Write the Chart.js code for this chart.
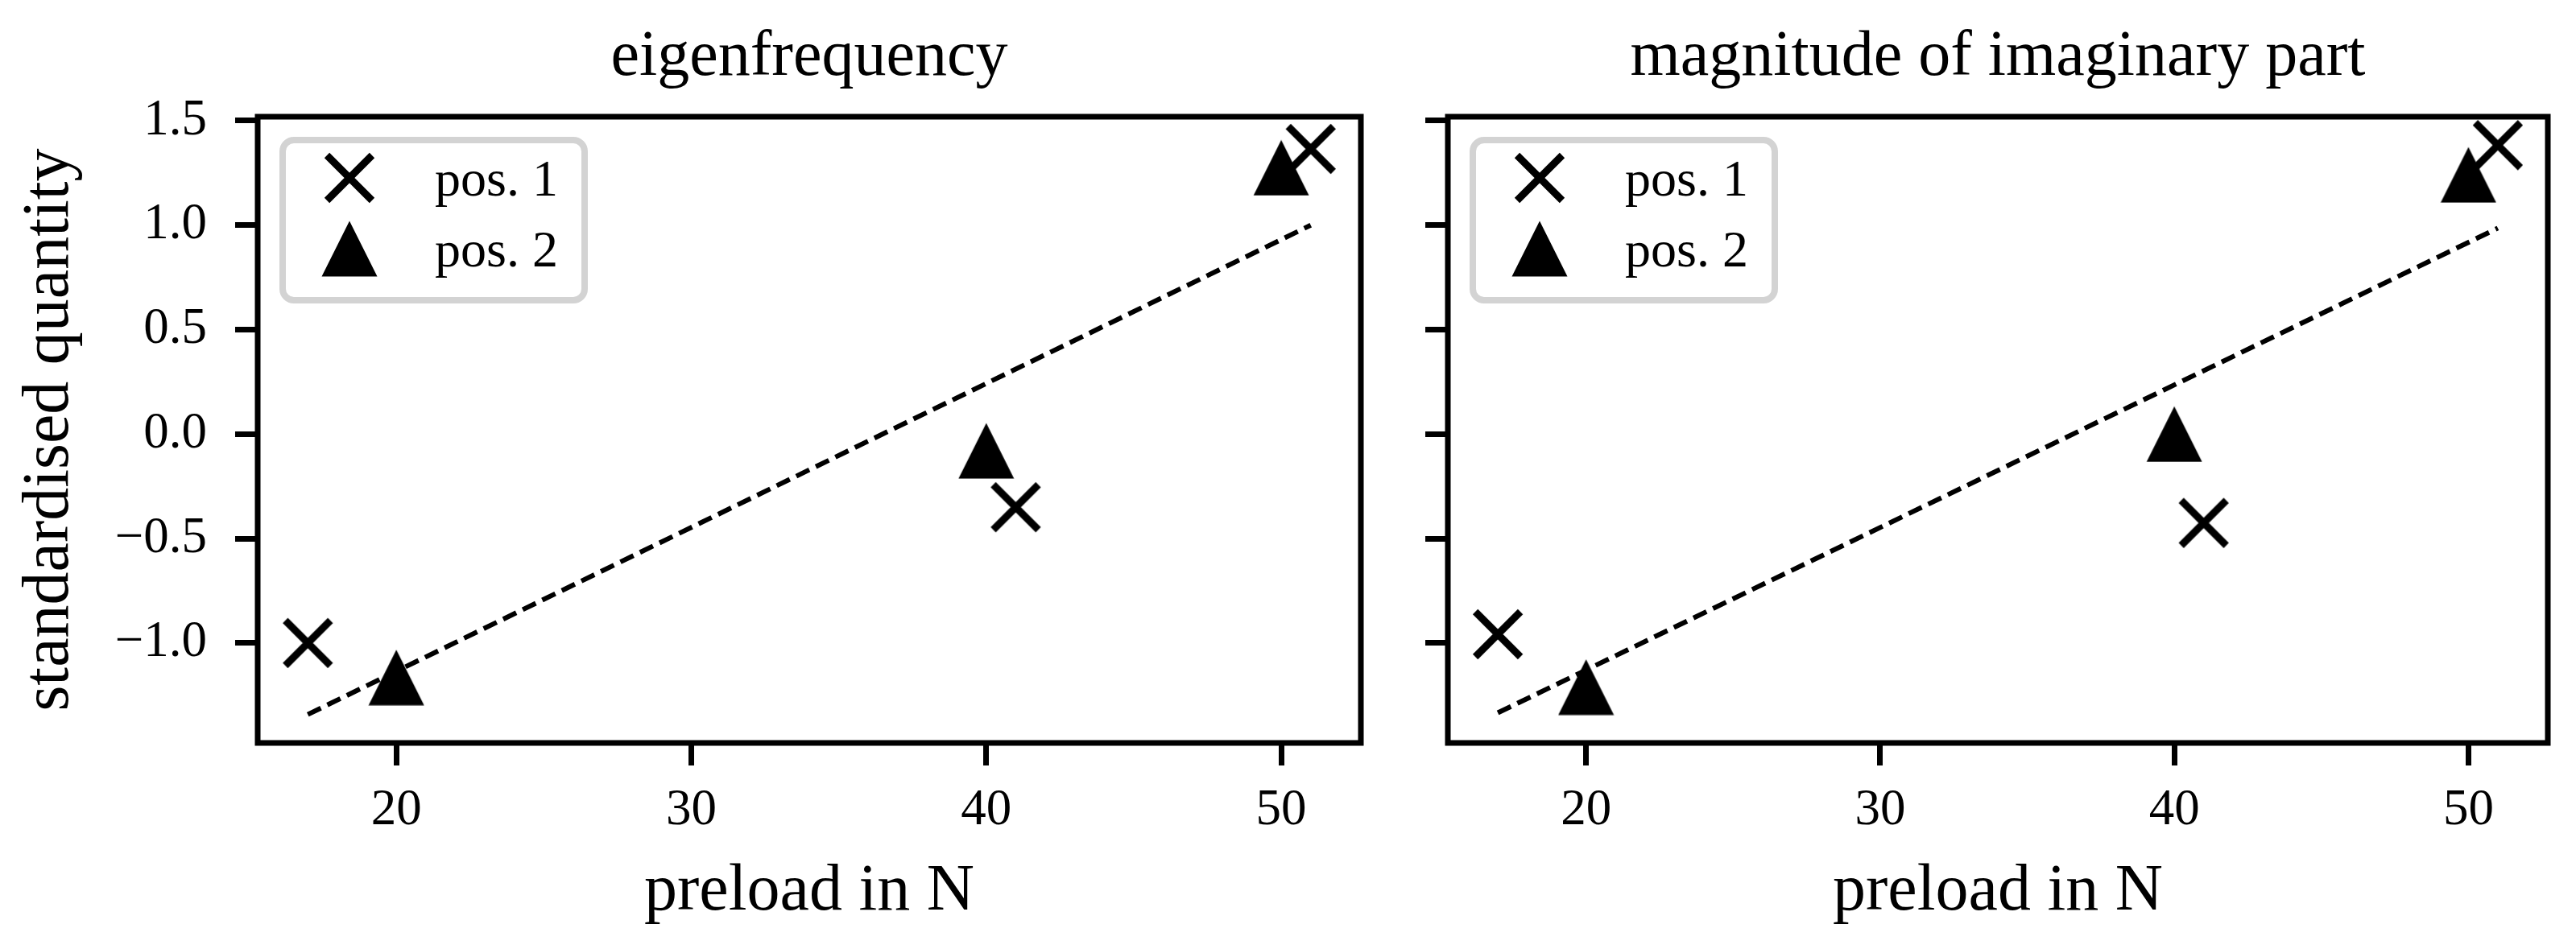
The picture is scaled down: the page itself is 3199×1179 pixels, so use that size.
<!DOCTYPE html>
<html>
<head>
<meta charset="utf-8">
<script src="https://cdn.jsdelivr.net/npm/chart.js@4.4.1/dist/chart.umd.min.js"></script>
<style>
  html, body { margin: 0; padding: 0; background: #fff; }
  body { width: 3199px; height: 1179px; position: relative; overflow: hidden; }
  canvas { position: absolute; top: 0; }
  #left { left: 0; }
  #right { left: 1740px; }
</style>
</head>
<body>
<canvas id="left" width="1740" height="1179"></canvas>
<canvas id="right" width="1459" height="1179"></canvas>
<script>
// values
const panelTitles = ["eigenfrequency", "magnitude of imaginary part"];
const seriesNames = ["pos. 1", "pos. 2"];
const pos1X = [17, 41, 51];
const pos2X = [20, 40, 50];
const freqPos1 = [-1.00, -0.35, 1.365];
const freqPos2 = [-1.165, -0.08, 1.275];
const imagPos1 = [-0.958, -0.425, 1.383];
const imagPos2 = [-1.211, 0.0, 1.241];
const fitX = [17, 51];
const freqFit = [-1.342, 1.0];
const imagFit = [-1.334, 0.986];
const xTicks = [20, 30, 40, 50];
const yTicks = [-1.0, -0.5, 0.0, 0.5, 1.0, 1.5];
const xLabel = "preload in N";
const yLabel = "standardised quantity";

const SERIF = '"Liberation Serif", "DejaVu Serif", serif';
Chart.defaults.color = '#000';
Chart.defaults.font.family = SERIF;

// matplotlib style autoscale: data range plus 5% each side, y shared by both panels
function limits(vals) {
  const lo = Math.min(...vals), hi = Math.max(...vals);
  const m = 0.05 * (hi - lo);
  return [lo - m, hi + m];
}
const [xMin, xMax] = limits([...pos1X, ...pos2X, ...fitX]);
const [yMin, yMax] = limits([...freqPos1, ...freqPos2, ...freqFit, ...imagPos1, ...imagPos2, ...imagFit]);

// marker images shaped like matplotlib's 'x' and '^'
function crossMarker() {
  const c = document.createElement('canvas');
  c.width = 66; c.height = 66;
  const g = c.getContext('2d');
  g.strokeStyle = '#000';
  g.lineWidth = 9;
  g.beginPath();
  g.moveTo(5, 5); g.lineTo(61, 61);
  g.moveTo(61, 5); g.lineTo(5, 61);
  g.stroke();
  return c;
}
function triangleMarker() {
  const c = document.createElement('canvas');
  c.width = 70; c.height = 70;
  const g = c.getContext('2d');
  g.fillStyle = '#000';
  g.beginPath();
  g.moveTo(35, 0.5); g.lineTo(69.5, 69.5); g.lineTo(0.5, 69.5);
  g.closePath();
  g.fill();
  return c;
}
const xMark = crossMarker();
const triMark = triangleMarker();

const toPts = (xs, ys) => xs.map((x, i) => ({ x: x, y: ys[i] }));

const panelDecor = {
  id: 'panelDecor',
  afterDatasetsDraw(chart, args, opts) {
    const { ctx, chartArea: a } = chart;
    ctx.save();
    // legend box
    ctx.beginPath();
    ctx.roundRect(a.left + 31, a.top + 29, 375, 199, 14);
    ctx.fillStyle = 'rgba(255,255,255,0.8)';
    ctx.fill();
    ctx.lineWidth = 8;
    ctx.strokeStyle = '#d3d3d3';
    ctx.stroke();
    chart.data.datasets.filter(d => d.inLegend).forEach((d, i) => {
      const cy = a.top + 76 + i * 88;
      const img = d.pointStyle;
      ctx.drawImage(img, a.left + 114 - img.width / 2, cy - img.height / 2);
      ctx.fillStyle = '#000';
      ctx.font = '64px ' + SERIF;
      ctx.textAlign = 'left';
      ctx.textBaseline = 'alphabetic';
      ctx.fillText(d.label, a.left + 220, cy + 22);
    });
    // axes frame
    ctx.lineWidth = 7;
    ctx.strokeStyle = '#000';
    ctx.strokeRect(a.left, a.top, a.right - a.left, a.bottom - a.top);
    // panel title
    ctx.fillStyle = '#000';
    ctx.font = '80px ' + SERIF;
    ctx.textAlign = 'center';
    ctx.textBaseline = 'alphabetic';
    ctx.fillText(opts.text, (a.left + a.right) / 2, a.top - 52);
    ctx.restore();
  }
};

function makePanel(id, title, p1, p2, fit, showY, yWidth, padRight) {
  return new Chart(document.getElementById(id), {
    type: 'scatter',
    data: {
      datasets: [
        { label: seriesNames[0], data: toPts(pos1X, p1), pointStyle: xMark, pointRadius: 30, inLegend: true, order: 2 },
        { label: seriesNames[1], data: toPts(pos2X, p2), pointStyle: triMark, pointRadius: 34, inLegend: true, order: 3 },
        { label: 'fit', data: toPts(fitX, fit), showLine: true, pointRadius: 0, borderColor: '#000',
          borderWidth: 6, borderDash: [18, 9], inLegend: false, order: 1 }
      ]
    },
    options: {
      responsive: false,
      animation: false,
      devicePixelRatio: 1,
      layout: { padding: { top: 145, right: padRight, bottom: 0, left: 0 } },
      clip: false,
      plugins: {
        legend: { display: false },
        tooltip: { enabled: false },
        panelDecor: { text: title }
      },
      scales: {
        x: {
          type: 'linear', min: xMin, max: xMax,
          afterBuildTicks: ax => { ax.ticks = xTicks.map(v => ({ value: v })); },
          afterFit: ax => { ax.height = 256; },
          grid: { drawOnChartArea: false, drawTicks: true, tickLength: 28, lineWidth: 7, color: '#000' },
          border: { display: false },
          ticks: { font: { size: 63 }, padding: 19, color: '#000', callback: v => String(v) },
          title: { display: true, text: xLabel, font: { size: 82 }, padding: { top: 0, bottom: 21 }, color: '#000' }
        },
        y: {
          type: 'linear', min: yMin, max: yMax,
          afterBuildTicks: ax => { ax.ticks = yTicks.map(v => ({ value: v })); },
          afterFit: ax => { ax.width = yWidth; },
          grid: { drawOnChartArea: false, drawTicks: true, tickLength: 28, lineWidth: 7, color: '#000' },
          border: { display: false },
          ticks: { display: showY, font: { size: 63 }, padding: 35, color: '#000',
            callback: v => v.toFixed(1).replace('-', '\u2212') },
          title: { display: showY, text: yLabel, font: { size: 82 }, padding: { top: 13, bottom: 0 }, color: '#000' }
        }
      }
    },
    plugins: [panelDecor]
  });
}

makePanel('left', panelTitles[0], freqPos1, freqPos2, freqFit, true, 320, 50);
makePanel('right', panelTitles[1], imagPos1, imagPos2, imagFit, false, 58, 30);
</script>
</body>
</html>
